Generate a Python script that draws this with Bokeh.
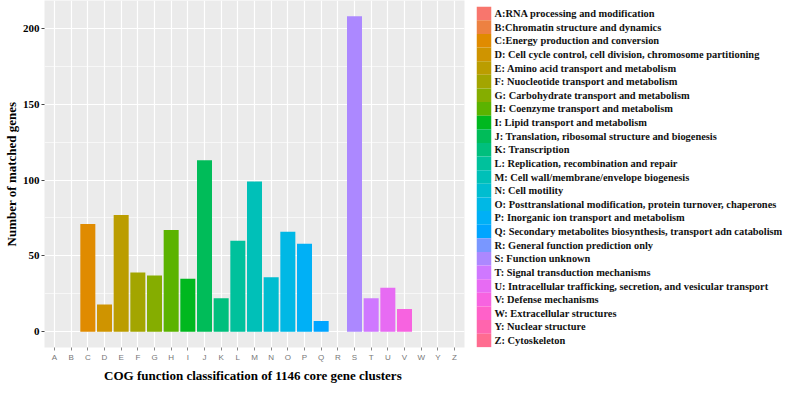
import math
from bokeh.plotting import figure
from bokeh.layouts import row
from bokeh.models import ColumnDataSource, FactorRange, Range1d, SingleIntervalTicker
from bokeh.embed import file_html
from bokeh.resources import INLINE

categories = ["A", "B", "C", "D", "E", "F", "G", "H", "I", "J", "K", "L", "M",
              "N", "O", "P", "Q", "R", "S", "T", "U", "V", "W", "Y", "Z"]
counts = [0, 0, 71, 18, 77, 39, 37, 67, 35, 113, 22, 60, 99,
          36, 66, 58, 7, 0, 208, 22, 29, 15, 0, 0, 0]
descriptions = [
    "A:RNA processing and modification",
    "B:Chromatin structure and dynamics",
    "C:Energy production and conversion",
    "D: Cell cycle control, cell division, chromosome partitioning",
    "E: Amino acid transport and metabolism",
    "F: Nuocleotide transport and metabolism",
    "G: Carbohydrate transport and metabolism",
    "H: Coenzyme transport and metabolism",
    "I: Lipid transport and metabolism",
    "J: Translation, ribosomal structure and biogenesis",
    "K: Transcription",
    "L: Replication, recombination and repair",
    "M: Cell wall/membrane/envelope biogenesis",
    "N: Cell motility",
    "O: Posttranslational modification, protein turnover, chaperones",
    "P: Inorganic ion transport and metabolism",
    "Q: Secondary metabolites biosynthesis, transport adn catabolism",
    "R: General function prediction only",
    "S: Function unknown",
    "T: Signal transduction mechanisms",
    "U: Intracellular trafficking, secretion, and vesicular transport",
    "V: Defense mechanisms",
    "W: Extracellular structures",
    "Y: Nuclear structure",
    "Z: Cytoskeleton",
]
x_title = "COG function classification of  1146 core gene clusters"
y_title = "Number of matched genes"


def hcl_to_hex(h, c=100.0, l=65.0):
    Xn, Yn, Zn = 95.047, 100.0, 108.883
    hr = math.radians(h)
    U = c * math.cos(hr)
    V = c * math.sin(hr)
    Y = Yn * ((l + 16) / 116) ** 3 if l > 8 else Yn * l / 903.3
    den = Xn + 15 * Yn + 3 * Zn
    u0 = 4 * Xn / den
    v0 = 9 * Yn / den
    uu = U / (13 * l) + u0
    vv = V / (13 * l) + v0
    X = 9.0 * Y * uu / (4 * vv)
    Z = -X / 3 - 5 * Y + 3 * Y / vv
    X, Y, Z = X / 100, Y / 100, Z / 100
    rgb = [3.240479 * X - 1.537150 * Y - 0.498535 * Z,
           -0.969256 * X + 1.875992 * Y + 0.041556 * Z,
           0.055648 * X - 0.204043 * Y + 1.057311 * Z]
    out = []
    for v in rgb:
        v = 1.055 * v ** (1 / 2.4) - 0.055 if v > 0.00304 else 12.92 * v
        v = min(1.0, max(0.0, v))
        out.append(int(round(v * 255)))
    return "#%02X%02X%02X" % tuple(out)


n = len(categories)
colors = [hcl_to_hex(15 + 360.0 * i / n) for i in range(n)]
order = list(range(n))

source = ColumnDataSource(dict(cat=categories, count=counts, label=descriptions,
                               color=colors, idx=order))

# ---------------- main bar chart ----------------
p = figure(width=468, height=385,
           x_range=FactorRange(*categories, range_padding=0.1, range_padding_units="absolute"),
           y_range=Range1d(-10.4, 218.4),
           output_backend="svg", toolbar_location=None,
           background_fill_color="#EBEBEB", border_fill_color="white",
           outline_line_color=None, min_border_top=0, min_border_left=0,
           min_border_right=4, min_border_bottom=0)

p.vbar(x="cat", top="count", bottom=0, width=0.9, source=source,
       fill_color="color", line_color=None)

ticker = SingleIntervalTicker(interval=50, num_minor_ticks=2)
p.yaxis.ticker = ticker
p.ygrid.ticker = ticker

p.xgrid.grid_line_color = "white"
p.xgrid.grid_line_width = 1.2
p.ygrid.grid_line_color = "white"
p.ygrid.grid_line_width = 1.2
p.ygrid.minor_grid_line_color = "white"
p.ygrid.minor_grid_line_width = 0.6

for ax in (p.xaxis[0], p.yaxis[0]):
    ax.axis_line_color = None
    ax.major_tick_line_color = "#444444"
    ax.major_tick_out = 3
    ax.major_tick_in = 0
    ax.minor_tick_line_color = None
    ax.axis_label_text_font = "Liberation Serif"
    ax.axis_label_text_font_style = "bold"
    ax.axis_label_text_font_size = "13px"
    ax.axis_label_text_color = "black"

p.xaxis.axis_label = x_title
p.yaxis.axis_label = y_title
p.xaxis.major_tick_line_color = "#888888"
p.xaxis.major_label_text_font = "Liberation Sans"
p.xaxis.major_label_text_font_size = "8px"
p.xaxis.major_label_text_color = "#777777"
p.xaxis.major_label_standoff = 2
p.xaxis.axis_label_standoff = 3
p.yaxis.major_label_text_font = "Liberation Serif"
p.yaxis.major_label_text_font_style = "bold"
p.yaxis.major_label_text_font_size = "11px"
p.yaxis.major_label_text_color = "black"
p.yaxis.major_label_standoff = 1
p.yaxis.axis_label_standoff = 1

# ---------------- legend panel (frame aligned with main plot frame) ----------------
lg = figure(width=316, height=385, x_range=Range1d(0, 316), y_range=Range1d(24.51, -0.954),
            output_backend="svg", toolbar_location=None,
            background_fill_color="white", border_fill_color="white",
            outline_line_color=None, min_border=0)
lg.axis.visible = False
lg.grid.visible = False

lg.rect(x=15.5, y="idx", width=14.5, height=1.0, source=source,
        fill_color="color", line_color=None)
lg.text(x=26, y="idx", text="label", source=source,
        text_font="Liberation Serif", text_font_style="bold", text_font_size="10.4px",
        text_color="#111111", text_baseline="middle", text_align="left")

layout = row(p, lg)
open("out.html", "w").write(file_html(layout, INLINE))
